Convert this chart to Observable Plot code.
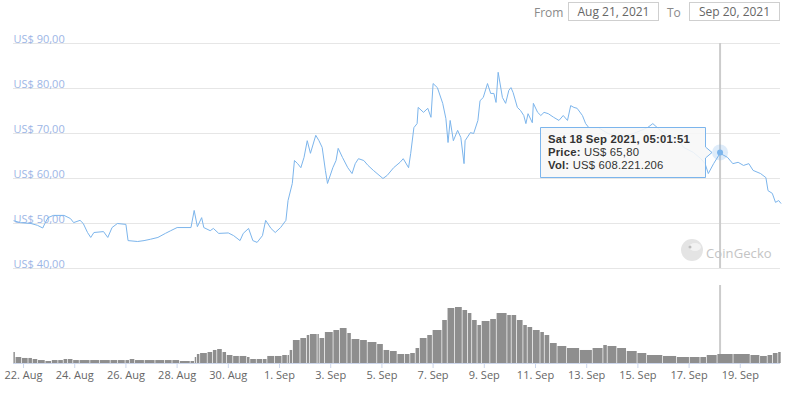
<!DOCTYPE html>
<html><head><meta charset="utf-8">
<script src="https://cdn.jsdelivr.net/npm/d3@7"></script>
<script src="https://cdn.jsdelivr.net/npm/@observablehq/plot@0.6"></script>
<style>
body{margin:0;width:797px;height:400px;position:relative;overflow:hidden;background:#fff;font-family:"Open Sans","DejaVu Sans",sans-serif;}
.abs{position:absolute;}
.lbl{font-size:12px;color:#8a8a8a;top:4px;}
.box{top:2px;height:17px;border:1px solid #cfcfcf;font-size:12px;color:#666;text-align:center;line-height:17px;box-sizing:content-box;}
#price{top:30px;left:0;}
#vol{top:270px;left:0;}
#tip{left:548px;top:133px;font-family:"Liberation Sans",Arial,sans-serif;font-size:11.3px;letter-spacing:0.2px;color:#333;white-space:nowrap;}
#tip div{height:13px;line-height:13px;}
#tip b{font-weight:700;}
#logo{left:706px;top:244px;font-size:13px;color:#c4c4c4;letter-spacing:0.1px;}
</style></head><body>
<div class="abs lbl" style="left:534px">From</div>
<div class="abs box" style="left:568px;width:89px">Aug 21, 2021</div>
<div class="abs lbl" style="left:667px">To</div>
<div class="abs box" style="left:689px;width:89px">Sep 20, 2021</div>
<div id="price" class="abs"></div>
<div id="vol" class="abs"></div>
<svg class="abs" style="left:0;top:0" width="797" height="400">
  <circle cx="692" cy="250" r="11" fill="#e4e4e4"/>
  <ellipse cx="695" cy="247" rx="6" ry="4" fill="#f2f2f2"/>
  <circle cx="690" cy="247" r="1.5" fill="#bdbdbd"/>
  <path d="M540.5,127.5 H705.5 V147 L712,152.5 L705.5,158 V177.5 H540.5 Z" fill="rgba(247,247,247,0.88)" stroke="#7cb5ec" stroke-width="1"/>
</svg>
<div id="logo" class="abs">CoinGecko</div>
<div id="tip" class="abs"><div><b>Sat 18 Sep 2021, 05:01:51</b></div><div><b>Price:</b> US$ 65,80</div><div><b>Vol:</b> US$ 608.221.206</div></div>
<script>
// hours after 22 Aug 2021 00:00 UTC, with the price in US$
const priceHours = [-9,-3,7,13,18,20,23,28,38,44,47,53,56,60,63,66,75,79,83,88,96,98,107,113,119,126,133,138,144,157,160,163,167,169,175,178,183,192,197,203,206,211,215,219,224,227,232,236,241,246,248,252,254,257,260,263,266,269,274,277,280,283,285,290,293,295,299,304,308,311,314,319,323,328,337,341,347,353,356,361,363,366,369,370,375,379,382,384,388,393,396,398,400,403,407,410,413,414,419,422,426,428,431,435,438,441,443,445,449,452,455,457,459,463,466,469,471,473,477,478,482,485,488,492,497,502,506,510,513,516,519,524,527,530,539,548,560,572,585,590,597,604,613,619,628,635,639,642,647,653,660,665,670,675,680,684,691,696,698,702,705,708,710];
const priceUSD = [50.6,50.2,50.0,49.6,49.0,50.0,51.3,51.8,51.8,51.1,50.2,50.7,50.0,48.0,46.9,48.0,48.2,46.9,49.1,50.0,49.8,46.2,46.0,46.2,46.5,46.9,47.8,48.4,49.1,49.1,52.9,49.3,51.3,49.1,48.4,48.9,47.8,47.9,47.3,46.2,47.8,48.9,46.2,45.8,47.3,50.7,48.9,48.0,49.1,50.7,55.1,58.9,64.0,63.3,62.4,64.7,68.4,65.6,69.6,68.4,66.9,61.8,58.9,62.4,64.0,66.7,64.7,62.4,61.1,63.3,64.4,64.0,62.9,61.8,60.0,60.7,62.4,63.6,64.4,62.4,65.6,71.3,72.2,75.8,74.7,75.6,73.6,81.1,80.2,76.7,73.3,68.0,72.9,68.4,70.7,69.1,63.3,68.4,70.2,70.0,72.9,77.3,78.0,81.1,78.9,78.9,76.9,83.6,78.0,76.7,79.6,80.2,79.1,75.8,75.1,74.0,72.2,74.4,72.4,76.7,74.7,74.0,74.7,74.4,73.6,72.9,74.0,72.9,76.2,75.8,75.6,74.0,72.2,71.3,71.3,70.0,69.1,70.0,71.3,72.2,70.7,69.6,68.9,66.9,65.8,64.4,63.3,61.1,63.3,65.6,64.7,63.3,63.6,62.9,63.3,61.8,61.1,60.2,57.3,56.7,54.7,55.1,54.5];
// hours after 22 Aug 2021 00:00 UTC, with the volume in millions of US$
const volHours = [-9,-7,-1,5,9,14,21,27,33,38,42,47,53,63,72,82,89,96,100,105,114,124,133,140,147,157,161,163,166,173,178,182,187,191,197,203,210,213,219,225,229,236,243,248,250,253,260,266,269,276,278,283,291,297,304,308,316,323,332,338,344,351,358,363,368,372,379,384,393,398,405,412,417,421,426,430,438,444,454,458,463,469,473,478,485,489,494,501,510,522,534,544,548,557,566,576,585,600,613,625,635,641,651,666,682,691,698,703,708,711];
const volMillions = [744,405,340,340,270,200,135,200,200,270,270,200,200,200,200,200,200,200,270,200,200,200,200,200,135,135,405,608,676,744,880,946,744,540,475,475,405,270,270,270,475,475,540,540,880,1555,1690,1893,1960,1960,1690,2096,2231,2366,2028,1622,1555,1420,1285,880,811,608,608,676,1014,1690,1893,2231,2907,3718,3786,3583,3380,2907,2569,2840,2975,3380,3245,3245,2907,2569,2434,2231,2096,1893,1352,1150,1014,880,1014,1217,1150,1014,811,676,540,475,405,405,405,540,608,608,540,475,540,676,744,744];
const yTicks = [40,50,60,70,80,90];
const xTickDates = ["2021-08-22","2021-08-24","2021-08-26","2021-08-28","2021-08-30","2021-09-01","2021-09-03","2021-09-05","2021-09-07","2021-09-09","2021-09-11","2021-09-13","2021-09-15","2021-09-17","2021-09-19"];
const hoverTime = "2021-09-18T05:01:51Z";
const hoverPrice = 65.80;

const base = Date.UTC(2021, 7, 22);
const toDate = h => new Date(base + h * 3600e3);
const priceData = priceHours.map((h, i) => ({t: toDate(h), p: priceUSD[i]}));
const volData = volHours.slice(0, -1).map((h, i) => ({t1: toDate(h), t2: toDate(volHours[i + 1]), v: volMillions[i]}));
const hover = [{t: new Date(hoverTime), p: hoverPrice}];
const xDomain = [new Date("2021-08-21T14:36:00Z"), new Date("2021-09-20T13:42:00Z")];
const ticks = xTickDates.map(d => new Date(d + "T00:00:00Z"));
const font = '"Open Sans","DejaVu Sans",sans-serif';

const price = Plot.plot({
  width: 797, height: 245, marginLeft: 13, marginRight: 17, marginTop: 13, marginBottom: 7,
  style: {fontFamily: font, background: "transparent"},
  x: {type: "utc", domain: xDomain, axis: null},
  y: {domain: [40, 90], axis: null},
  marks: [
    Plot.ruleY(yTicks, {stroke: "#e6e6e6", strokeWidth: 1}),
    Plot.text(yTicks, {y: d => d, frameAnchor: "left", text: d => `US$ ${d},00`, textAnchor: "start", lineAnchor: "bottom", dy: -1, fill: "#9db6e6", fontSize: 11}),
    Plot.ruleX(hover, {x: "t", stroke: "#cccccc", strokeWidth: 2}),
    Plot.line(priceData, {x: "t", y: "p", stroke: "#7cb5ec", strokeWidth: 1}),
    Plot.dot(hover, {x: "t", y: "p", r: 8, fill: "#7cb5ec", fillOpacity: 0.25, stroke: null}),
    Plot.dot(hover, {x: "t", y: "p", r: 3, fill: "#7cb5ec", stroke: null})
  ]
});
document.getElementById("price").append(price);

const vol = Plot.plot({
  width: 797, height: 130, marginLeft: 13, marginRight: 17, marginTop: 15, marginBottom: 37,
  style: {fontFamily: font, background: "transparent"},
  x: {type: "utc", domain: xDomain},
  y: {domain: [0, 5273], axis: null},
  marks: [
    Plot.ruleX(hover, {x: "t", stroke: "#cccccc", strokeWidth: 2}),
    Plot.rect(volData, {x1: "t1", x2: "t2", y1: 0, y2: "v", fill: "#8e8e8e", insetRight: 0.7}),
    Plot.ruleY([0], {stroke: "#ccd6eb"}),
    Plot.axisX(ticks, {tickFormat: d3.utcFormat("%-d. %b"), tickSize: 5, tickPadding: 3, stroke: "#ccd6eb", fill: "#666666", fontSize: 11, label: null})
  ]
});
document.getElementById("vol").append(vol);
</script>
</body></html>
